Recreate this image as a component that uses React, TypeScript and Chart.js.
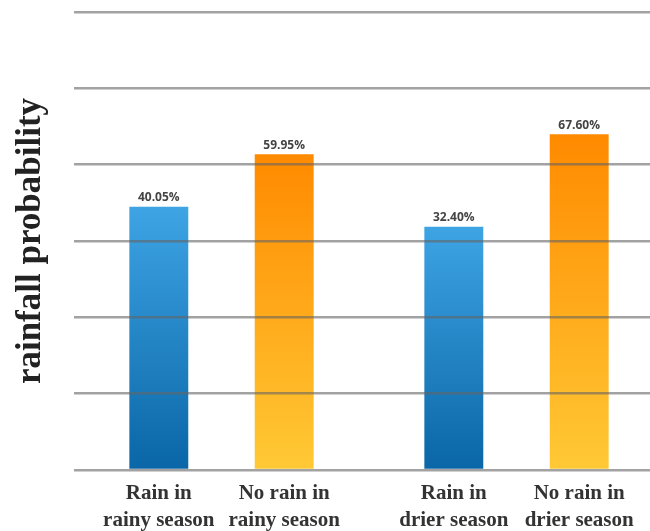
import React, { useEffect, useRef } from "react";
import { Chart, registerables } from "chart.js";

Chart.register(...registerables);

const seasons = ["rainy season", "drier season"];
const rainValues = [40.05, 32.4];
const noRainValues = [59.95, 67.6];
const barLabels = [
  ["Rain in", "rainy season"],
  ["No rain in", "rainy season"],
  ["Rain in", "drier season"],
  ["No rain in", "drier season"],
];
const yTitle = "rainfall probability";
const yMin = -60;
const yMax = 114;
const yStep = 29;

const blueStops = ["#3ea4e4", "#0a66a6"];
const orangeStops = ["#ff8a00", "#ffc935"];

function gradientFor(stops: string[]) {
  return (ctx: any) => {
    const chart = ctx.chart;
    const area = chart.chartArea;
    const y = chart.scales?.y;
    if (!area || !y || ctx.raw == null) return stops[0];
    const top = y.getPixelForValue(ctx.raw);
    const bottom = area.bottom;
    const g = chart.ctx.createLinearGradient(0, top, 0, bottom);
    g.addColorStop(0, stops[0]);
    g.addColorStop(1, stops[1]);
    return g;
  };
}

const labelPlugin = {
  id: "labelPlugin",
  afterDatasetsDraw(chart: any) {
    const ctx = chart.ctx;
    ctx.save();
    ctx.textAlign = "center";
    chart.data.datasets.forEach((ds: any, di: number) => {
      const meta = chart.getDatasetMeta(di);
      meta.data.forEach((bar: any, i: number) => {
        const v = ds.data[i];
        ctx.font = "bold 12px 'Open Sans', sans-serif";
        ctx.fillStyle = "#444444";
        ctx.textBaseline = "bottom";
        ctx.fillText(v.toFixed(2) + "%", bar.x, bar.y - 3);
        const idx = i * 2 + di;
        const lines = barLabels[idx];
        ctx.font = "bold 21px 'Liberation Serif', 'Times New Roman', serif";
        ctx.fillStyle = "#333333";
        ctx.textBaseline = "middle";
        lines.forEach((ln: string, k: number) => {
          ctx.fillText(ln, bar.x, chart.chartArea.bottom + 24 + k * 27);
        });
      });
    });
    ctx.restore();
  },
};

export default function App() {
  const ref = useRef<HTMLCanvasElement>(null);
  useEffect(() => {
    if (!ref.current) return;
    const chart = new Chart(ref.current, {
      type: "bar",
      data: {
        labels: seasons,
        datasets: [
          {
            label: "Rain",
            data: rainValues,
            base: yMin,
            backgroundColor: gradientFor(blueStops),
            borderWidth: 0,
          },
          {
            label: "No rain",
            data: noRainValues,
            base: yMin,
            backgroundColor: gradientFor(orangeStops),
            borderWidth: 0,
          },
        ],
      },
      options: {
        responsive: false,
        animation: false,
        categoryPercentage: 0.85,
        barPercentage: 0.47,
        layout: { padding: { left: 10, top: 12, bottom: 61, right: 0 } },
        plugins: {
          legend: { display: false },
          tooltip: { enabled: false },
        },
        scales: {
          x: { display: false },
          y: {
            min: yMin,
            max: yMax,
            border: { display: false },
            ticks: { display: false, stepSize: yStep },
            grid: {
              color: "rgba(100,100,100,0.6)",
              lineWidth: 2.5,
              drawTicks: false,
              z: 1,
            },
            title: {
              display: true,
              text: yTitle,
              color: "#222222",
              font: {
                family: "'Liberation Serif', 'Times New Roman', serif",
                size: 35,
                weight: "bold",
              },
              padding: { top: 0, bottom: 22 },
            },
          },
        },
      },
      plugins: [labelPlugin],
    });
    return () => chart.destroy();
  }, []);
  return (
    <div
      style={{
        position: "fixed",
        left: 0,
        top: 0,
        width: 650,
        height: 531,
        overflow: "hidden",
        background: "#ffffff",
      }}
    >
      <canvas ref={ref} width={664} height={531} style={{ display: "block" }} />
    </div>
  );
}
